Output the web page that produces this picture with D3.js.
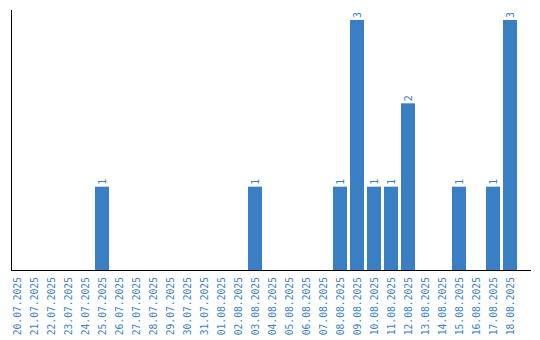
<!DOCTYPE html>
<html><head><meta charset="utf-8">
<script src="https://cdn.jsdelivr.net/npm/d3@7"></script>
<style>body{margin:0;background:#fff} text{font-family:"DejaVu Sans Mono",monospace;}</style>
</head><body>
<script>
const categories = ["20.07.2025","21.07.2025","22.07.2025","23.07.2025","24.07.2025","25.07.2025","26.07.2025","27.07.2025","28.07.2025","29.07.2025","30.07.2025","31.07.2025","01.08.2025","02.08.2025","03.08.2025","04.08.2025","05.08.2025","06.08.2025","07.08.2025","08.08.2025","09.08.2025","10.08.2025","11.08.2025","12.08.2025","13.08.2025","14.08.2025","15.08.2025","16.08.2025","17.08.2025","18.08.2025"];
const values = [0,0,0,0,0,1,0,0,0,0,0,0,0,0,1,0,0,0,0,1,3,1,1,2,0,0,1,0,1,3];
const color = "#3a7fc4";
const W=540,H=340;
const svg=d3.select("body").append("svg").attr("width",W).attr("height",H);
const x=d3.scaleBand().domain(categories).range([10,517]).paddingInner(3/17).paddingOuter(0);
const y=d3.scaleLinear().domain([0,3]).range([270,20]);
const data=categories.map((c,i)=>({c,v:values[i]}));
svg.selectAll("rect.bar").data(data.filter(d=>d.v>0)).enter().append("rect")
  .attr("x",d=>x(d.c)).attr("width",x.bandwidth())
  .attr("y",d=>y(d.v)).attr("height",d=>y(0)-y(d.v)).attr("fill",color);
svg.selectAll("text.val").data(data.filter(d=>d.v>0)).enter().append("text")
  .attr("transform",d=>`translate(${x(d.c)+x.bandwidth()/2+3.5},${y(d.v)-2}) rotate(-90)`)
  .attr("font-size",10).attr("fill",color)
  .text(d=>d.v);
// axes
svg.append("line").attr("x1",11.5).attr("x2",11.5).attr("y1",10).attr("y2",270.5).attr("stroke","#000");
svg.append("line").attr("x1",11).attr("x2",531).attr("y1",270.5).attr("y2",270.5).attr("stroke","#000");
svg.selectAll("text.tick").data(categories).enter().append("text")
  .attr("transform",d=>`translate(${x(d)+x.bandwidth()/2+3.5},277) rotate(-90)`)
  .attr("text-anchor","end")
  .attr("font-size",9.7).attr("fill",color)
  .text(d=>d);
</script>
</body></html>
